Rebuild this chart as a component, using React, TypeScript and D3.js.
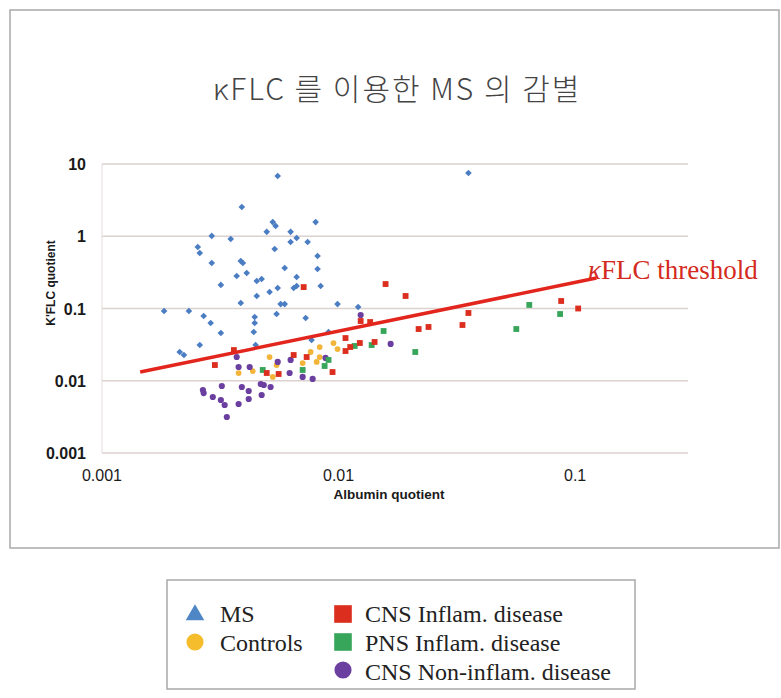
import React from 'react'
import * as d3 from 'd3'

const W = 781
const H = 698

// axis ticks
const xTicks = [0.001, 0.01, 0.1]
const yTicks = [0.001, 0.01, 0.1, 1, 10]
const xTickLabels = ['0.001', '0.01', '0.1']
const yTickLabels = ['0.001', '0.01', '0.1', '1', '10']

// [albumin quotient, kFLC quotient]
const msPoints: [number, number][] = [
    [0.00553, 6.82], [0.0354, 7.5], [0.0039, 2.54], [0.00527, 1.57], [0.00542, 1.39],
    [0.008, 1.57], [0.00497, 1.15], [0.00627, 1.15], [0.00291, 1.01], [0.0035, 0.916],
    [0.00665, 0.946], [0.00627, 0.832], [0.0074, 0.832], [0.00254, 0.71], [0.00259, 0.586],
    [0.00537, 0.666], [0.00815, 0.533], [0.00291, 0.426], [0.00386, 0.454], [0.00394, 0.426],
    [0.00592, 0.364], [0.00815, 0.352], [0.00409, 0.31], [0.00371, 0.282], [0.00451, 0.24],
    [0.00473, 0.256], [0.00665, 0.273], [0.00318, 0.212], [0.00553, 0.192], [0.00646, 0.192],
    [0.00665, 0.205], [0.0084, 0.205], [0.00451, 0.149], [0.00511, 0.169], [0.00386, 0.119],
    [0.00569, 0.115], [0.00592, 0.115], [0.0099, 0.115], [0.0121, 0.105], [0.00183, 0.0923],
    [0.00233, 0.0923], [0.00269, 0.0787], [0.00288, 0.063], [0.00318, 0.0458], [0.00259, 0.0312],
    [0.00213, 0.025], [0.00222, 0.0227], [0.00442, 0.0763], [0.00442, 0.063], [0.00438, 0.0473],
    [0.00446, 0.0312], [0.00547, 0.0839], [0.00726, 0.0739], [0.00907, 0.0473], [0.00769, 0.0366],
]
const controlPoints: [number, number][] = [
    [0.00378, 0.0128], [0.00434, 0.0136], [0.00511, 0.0213], [0.00547, 0.0165], [0.00527, 0.0113],
    [0.00952, 0.0333], [0.0099, 0.0275], [0.00832, 0.0293], [0.00762, 0.025], [0.00832, 0.0213],
    [0.00808, 0.0182], [0.00705, 0.0176],
]
const cnsInflamPoints: [number, number][] = [
    [0.00712, 0.198], [0.0158, 0.218], [0.0192, 0.149], [0.0354, 0.0867], [0.0124, 0.0671],
    [0.0136, 0.065], [0.0218, 0.052], [0.024, 0.0555], [0.0334, 0.0591], [0.0873, 0.127],
    [0.103, 0.1], [0.0107, 0.039], [0.00361, 0.0266], [0.003, 0.0165], [0.0142, 0.0344],
    [0.0123, 0.0333], [0.0112, 0.0293], [0.0107, 0.0258], [0.00733, 0.0213], [0.00646, 0.0227],
    [0.00497, 0.0128], [0.00558, 0.0124], [0.00943, 0.0132],
]
const pnsInflamPoints: [number, number][] = [
    [0.0155, 0.0488], [0.0117, 0.0303], [0.0138, 0.0312], [0.0211, 0.025], [0.00907, 0.0194],
    [0.00873, 0.016], [0.00705, 0.0141], [0.00478, 0.0141], [0.064, 0.112], [0.0564, 0.052],
    [0.0864, 0.0839],
]
const cnsNonInflamPoints: [number, number][] = [
    [0.0124, 0.0813], [0.0166, 0.0323], [0.00881, 0.0207], [0.00627, 0.0194], [0.00553, 0.0182],
    [0.00371, 0.0213], [0.00378, 0.0155], [0.00421, 0.0155], [0.00621, 0.0128], [0.00705, 0.0113],
    [0.00777, 0.0106], [0.0039, 0.0082], [0.00417, 0.00721], [0.00469, 0.00902], [0.00483, 0.00873],
    [0.00516, 0.0082], [0.00473, 0.00635], [0.00417, 0.00559], [0.00378, 0.00477], [0.00267, 0.00745],
    [0.00269, 0.00676], [0.00321, 0.00846], [0.00294, 0.00596], [0.00318, 0.00541], [0.0033, 0.00462],
    [0.00337, 0.00315],
]
const thresholdLine: [number, number][] = [[0.00145, 0.0132], [0.123, 0.264]]

const BLUE = '#4b7dc2'
const YELLOW = '#f2b53a'
const RED = '#dc2e1f'
const GREEN = '#38a65a'
const PURPLE = '#6a3fa0'
const LINE_RED = '#e3261d'

const App = () => {
    const x = d3.scaleLog().domain([0.001, 0.3]).range([102, 688])
    const y = d3.scaleLog().domain([0.001, 10]).range([453, 164])

    const diamond = d3.symbol(d3.symbolSquare, 22)()
    const square = d3.symbol(d3.symbolSquare, 34)()
    const dot = d3.symbol(d3.symbolCircle, 30)()
    const smallDot = d3.symbol(d3.symbolCircle, 26)()
    const line = d3.line<[number, number]>().x(d => x(d[0])).y(d => y(d[1]))

    const tri = d3.symbol(d3.symbolTriangle, 150)()
    const legSquare = d3.symbol(d3.symbolSquare, 310)()
    const legDot = d3.symbol(d3.symbolCircle, 230)()

    const sans = "'Liberation Sans', Arial, sans-serif"
    const serif = "'Liberation Serif', 'Times New Roman', serif"

    return (
        <svg width={W} height={H} style={{ position: 'absolute', left: 0, top: 0, background: '#fff' }}>
            <rect x={10} y={10} width={769} height={538} fill='#fff' stroke='#a9a9a9' strokeWidth={1.5} />
            <text x={397} y={100} textAnchor='middle' fontSize={30} fill='#444' letterSpacing={2}
                fontWeight={300} fontFamily="'Noto Sans CJK KR', sans-serif">κFLC 를 이용한 MS 의 감별</text>

            {yTicks.map((t, i) => (
                <g key={'y' + i}>
                    <line x1={x.range()[0]} x2={x.range()[1]} y1={y(t)} y2={y(t)} stroke='#dcd2cf' strokeWidth={1.5} />
                    <text x={86} y={y(t) + 6} textAnchor='end' fontSize={16} fontWeight='bold' fill='#1a1a1a'
                        fontFamily={sans}>{yTickLabels[i]}</text>
                </g>
            ))}
            <line x1={x.range()[0]} x2={x.range()[0]} y1={y(10)} y2={y(0.001)} stroke='#e4dcda' strokeWidth={1} />
            {xTicks.map((t, i) => (
                <text key={'x' + i} x={x(t)} y={481} textAnchor='middle' fontSize={16} fill='#1a1a1a'
                    fontFamily={sans}>{xTickLabels[i]}</text>
            ))}
            <text x={389} y={499} textAnchor='middle' fontSize={13.5} fontWeight='bold' fill='#1a1a1a'
                fontFamily={sans}>Albumin quotient</text>
            <text transform='translate(55,283) rotate(-90)' textAnchor='middle' fontSize={12} fontWeight='bold'
                fill='#1a1a1a' fontFamily={sans}>K'FLC quotient</text>

            {msPoints.map((d, i) => (
                <path key={'ms' + i} d={diamond} fill={BLUE}
                    transform={`translate(${x(d[0])},${y(d[1])}) rotate(45)`} />
            ))}
            {controlPoints.map((d, i) => (
                <path key={'c' + i} d={smallDot} fill={YELLOW} transform={`translate(${x(d[0])},${y(d[1])})`} />
            ))}
            {cnsNonInflamPoints.map((d, i) => (
                <path key={'n' + i} d={dot} fill={PURPLE} transform={`translate(${x(d[0])},${y(d[1])})`} />
            ))}
            {pnsInflamPoints.map((d, i) => (
                <path key={'p' + i} d={square} fill={GREEN} transform={`translate(${x(d[0])},${y(d[1])})`} />
            ))}
            {cnsInflamPoints.map((d, i) => (
                <path key={'r' + i} d={square} fill={RED} transform={`translate(${x(d[0])},${y(d[1])})`} />
            ))}

            <path d={line(thresholdLine) || ''} stroke={LINE_RED} strokeWidth={3.5} fill='none' />
            <text x={588} y={279} fontSize={27} fill='#d42a20' fontFamily={serif}>
                <tspan fontStyle='italic'>κ</tspan>FLC threshold
            </text>

            {/* legend */}
            <rect x={167} y={580} width={468} height={109} fill='#fff' stroke='#a9a9a9' strokeWidth={1.5} />
            <path d={tri} fill='#4f86c6' transform='translate(195,615)' />
            <text x={220} y={622} fontSize={24} fill='#222' fontFamily={serif}>MS</text>
            <path d={legDot} fill='#f5bd2c' transform='translate(195,642)' />
            <text x={220} y={651} fontSize={24} fill='#222' fontFamily={serif}>Controls</text>
            <path d={legSquare} fill={RED} transform='translate(343,614)' />
            <text x={365} y={622} fontSize={24} fill='#222' fontFamily={serif}>CNS Inflam. disease</text>
            <path d={legSquare} fill={GREEN} transform='translate(343,642)' />
            <text x={365} y={651} fontSize={24} fill='#222' fontFamily={serif}>PNS Inflam. disease</text>
            <path d={legDot} fill={PURPLE} transform='translate(343,670)' />
            <text x={365} y={680} fontSize={24} fill='#222' fontFamily={serif}>CNS Non-inflam. disease</text>
        </svg>
    )
}

export default App
